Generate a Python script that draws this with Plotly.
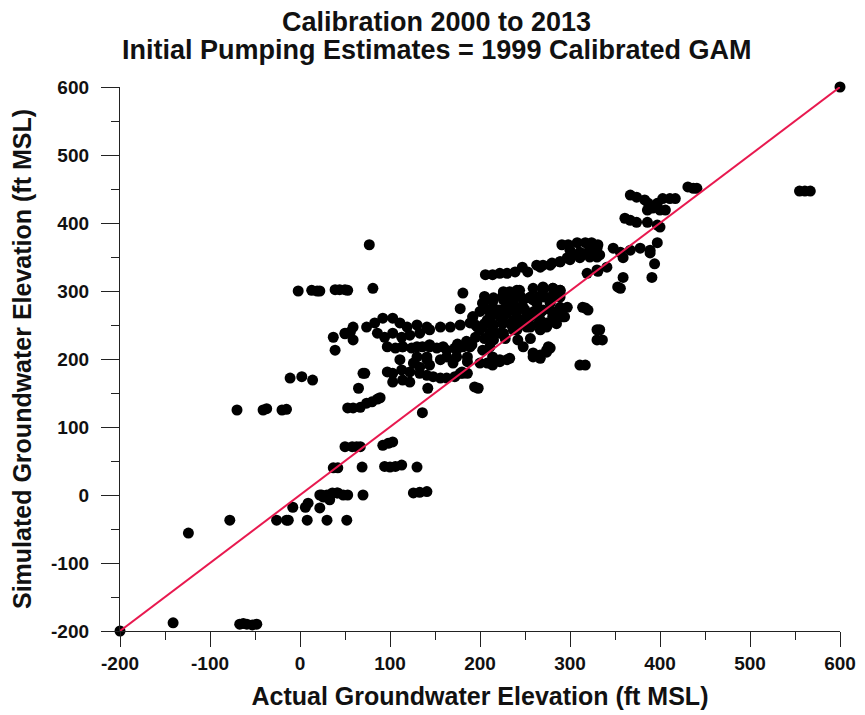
import plotly.graph_objects as go

# Actual vs simulated groundwater elevations (ft MSL)
actual = [
    600, -200, -141, -67, -63, -59, -53, -48, -124, -78, 555, 561, 567,
    -70, -41, -37, -20, -15, 37, 42, 69, 94, 100, 106, 113, 130,
    -8, 6, 9, 22, 22, 26, 31, 33, 41, 24, 30, 36, 42, 48, 53, 70, 126, 133, 141,
    -26, -15, -13, 8, 30, 52,
    72, 65, 59, 67, 74, 80, 86, 89, 53, 136, 142, 194, 198, 180, 211,
    50, 58, 63, 67, 92, 98, 103,
    -2, 13, 19, 22, 39, 44, 50, 53, 81, 77,
    37, 50, 56, 39, -11, 2, 14, 181, 178, 59, 50, 59,
    74, 83, 92, 103, 111, 119, 130, 141, 144, 156, 167, 178, 189, 197,
    86, 94, 103, 113, 122, 133,
    97, 106, 114, 124, 136, 144, 152, 163, 172, 181, 191,
    130, 141, 163, 174, 186, 133, 144,
    97, 103, 113, 122, 133, 141, 148, 156, 163, 172, 181, 178, 186, 103, 114, 122, 70,
    208, 214, 222, 230, 192, 203, 214, 226, 211, 222, 230, 200, 214, 226,
    206, 214, 222, 230, 239, 247, 253, 263, 270, 280, 289, 297, 303, 311, 319, 326,
    317, 330, 330, 311, 317, 259, 267, 274, 276,
    233, 244, 259, 270, 281, 289, 203, 214, 226, 237, 248, 259, 270, 281, 289,
    192, 208, 222, 237, 252, 267, 281, 292, 222, 237, 252, 267, 274,
    114, 130, 144, 159, 174, 189, 203, 111, 126, 141, 156, 170, 186, 200, 214,
    219, 230, 241, 211, 203, 330, 331,
    367, 374, 383, 387, 397, 403, 411, 417, 361, 367, 374, 386, 392, 400, 406, 386, 397, 400, 431, 437, 441,
    291, 298, 308, 317, 324, 331, 300, 311, 322, 330,
    267, 278, 289, 300, 311, 322, 333, 348, 356, 367, 378, 389, 397,
    359, 389, 394, 391, 359, 356, 353, 319, 330, 341, 320, 333, 336,
    211, 222, 233, 248, 259, 267, 274, 278,
    226, 241, 256, 270, 281, 289, 297, 294, 281, 267, 256, 241, 226, 211, 226, 241, 256, 274, 286,
    233, 248, 263, 278, 289, 314, 289,
    205, 215, 225, 235, 245, 255, 265, 275, 285,
    200, 210, 220, 230, 240, 250, 260, 270, 280, 290,
    195, 205, 215, 225, 235, 245, 255, 265, 275, 285,
    205, 215, 228, 242, 256, 195, 185, 175,
]
simulated = [
    600, -200, -188, -190, -189, -190, -191, -190, -56, -37, 447, 447, 447,
    125, 125, 127, 125, 126, 40, 40, 41, 42, 41, 42, 44, 41,
    -18, -18, -12, -19, 0, -3, -3, -7, 3, 0, 0, 3, 3, 0, 0, 0, 3, 4, 5,
    -37, -37, -37, -37, -37, -37,
    179, 157, 128, 129, 135, 137, 141, 143, 128, 121, 157, 159, 157, 181, 194,
    71, 71, 71, 71, 73, 76, 78,
    300, 301, 300, 300, 302, 302, 302, 301, 304, 368,
    232, 237, 240, 213, 172, 174, 169, 297, 274, 247, 238, 228,
    247, 253, 260, 260, 253, 247, 250, 247, 243, 247, 247, 250, 253, 247,
    238, 232, 238, 232, 235, 238,
    218, 216, 218, 216, 218, 221, 216, 213, 216, 218, 221,
    203, 203, 203, 203, 203, 188, 191,
    181, 179, 184, 181, 179, 176, 174, 172, 172, 174, 179, 179, 179, 166, 169, 166, 179,
    194, 191, 196, 199, 262, 282, 287, 299, 262, 272, 276, 243, 247, 253,
    324, 324, 326, 326, 328, 335, 328, 338, 338, 341, 343, 349, 353, 356, 356, 357,
    275, 243, 228, 191, 191, 203, 206, 213, 218,
    299, 301, 304, 306, 304, 301, 282, 284, 287, 282, 287, 287, 291, 294, 276,
    262, 257, 262, 257, 262, 268, 262, 262, 238, 243, 247, 243, 253,
    218, 218, 218, 218, 213, 218, 213, 199, 194, 199, 199, 194, 196, 194, 203,
    272, 268, 276, 238, 247, 350, 329,
    441, 438, 434, 429, 429, 436, 436, 436, 407, 404, 401, 419, 422, 419, 419, 401, 397, 394, 453, 451, 451,
    368, 368, 371, 371, 371, 368, 360, 357, 360, 363,
    335, 338, 343, 346, 349, 350, 353, 363, 357, 360, 363, 360, 371,
    349, 356, 340, 320, 320, 304, 306, 326, 331, 335, 272, 243, 228,
    218, 199, 201, 218, 209, 201, 210, 216,
    297, 301, 291, 301, 304, 297, 276, 262, 262, 257, 262, 262, 262, 257, 238, 243, 247, 247, 262,
    282, 276, 282, 282, 291, 276, 301,
    292, 290, 292, 290, 292, 290, 292, 290, 292,
    270, 272, 270, 272, 270, 272, 270, 272, 270, 272,
    250, 252, 250, 252, 250, 252, 250, 252, 250, 252,
    230, 228, 230, 228, 230, 232, 226, 222,
]

axis_range = [-200, 600]
tick_vals = [-200, -100, 0, 100, 200, 300, 400, 500, 600]
tick_text = ["-200", "-100", "0", "100", "200", "300", "400", "500", "600"]
title_lines = ["Calibration 2000 to 2013", "Initial Pumping Estimates = 1999 Calibrated GAM"]
y_title = "Simulated Groundwater Elevation (ft MSL)"
x_title = "Actual Groundwater Elevation (ft MSL)"

FONT = "Liberation Sans, Arial, sans-serif"
INK = "#111"

fig = go.Figure()
fig.add_trace(go.Scatter(
    x=actual, y=simulated, mode="markers",
    marker=dict(color="black", size=11, line=dict(width=0)),
    cliponaxis=False, showlegend=False, hoverinfo="skip",
))
fig.add_trace(go.Scatter(
    x=axis_range, y=axis_range, mode="lines",
    line=dict(color="#E8194F", width=2),
    cliponaxis=False, showlegend=False, hoverinfo="skip",
))

axis_common = dict(
    range=axis_range, tickvals=tick_vals, ticktext=tick_text,
    showgrid=False, zeroline=False, showline=True, linecolor="#222", linewidth=1.3,
    ticks="outside", tickwidth=1.3, tickcolor="#222",
    minor=dict(ticks="outside", ticklen=8, tickwidth=1.3, tickcolor="#222", dtick=50, showgrid=False),
    tickfont=dict(family=FONT, size=19, color=INK, weight="bold"),
)

fig.update_xaxes(
    **axis_common, ticklen=15,
    title=dict(text="<b>%s</b>" % x_title,
               font=dict(family=FONT, size=25, color=INK), standoff=14),
)
fig.update_yaxes(**axis_common, ticklen=18, ticklabelstandoff=8)

plot_left, plot_right = 120, 840
plot_top, plot_bottom = 87, 631

# y-axis title placed at pixel x ~ 22
fig.add_annotation(
    text="<b>%s</b>" % y_title, xref="paper", yref="paper",
    x=(22 - plot_left) / (plot_right - plot_left), y=0.5,
    xanchor="center", yanchor="middle", textangle=-90, showarrow=False,
    font=dict(family=FONT, size=25, color=INK),
)

# title lines as annotations (pixel y 22 and 50 -> paper coords)
for line, py in zip(title_lines, [22, 50]):
    fig.add_annotation(
        text="<b>%s</b>" % line, xref="paper", yref="paper",
        x=0.44, y=(plot_bottom - py) / (plot_bottom - plot_top),
        xanchor="center", yanchor="middle", showarrow=False,
        font=dict(family=FONT, size=27, color=INK),
    )

fig.update_layout(
    width=865, height=715,
    margin=dict(l=plot_left, r=865 - plot_right, t=plot_top, b=715 - plot_bottom, autoexpand=False),
    paper_bgcolor="white", plot_bgcolor="white",
    hovermode=False,
)

fig.write_html("out.html", config={"displayModeBar": False},
               post_script="document.body.style.margin='0';")
